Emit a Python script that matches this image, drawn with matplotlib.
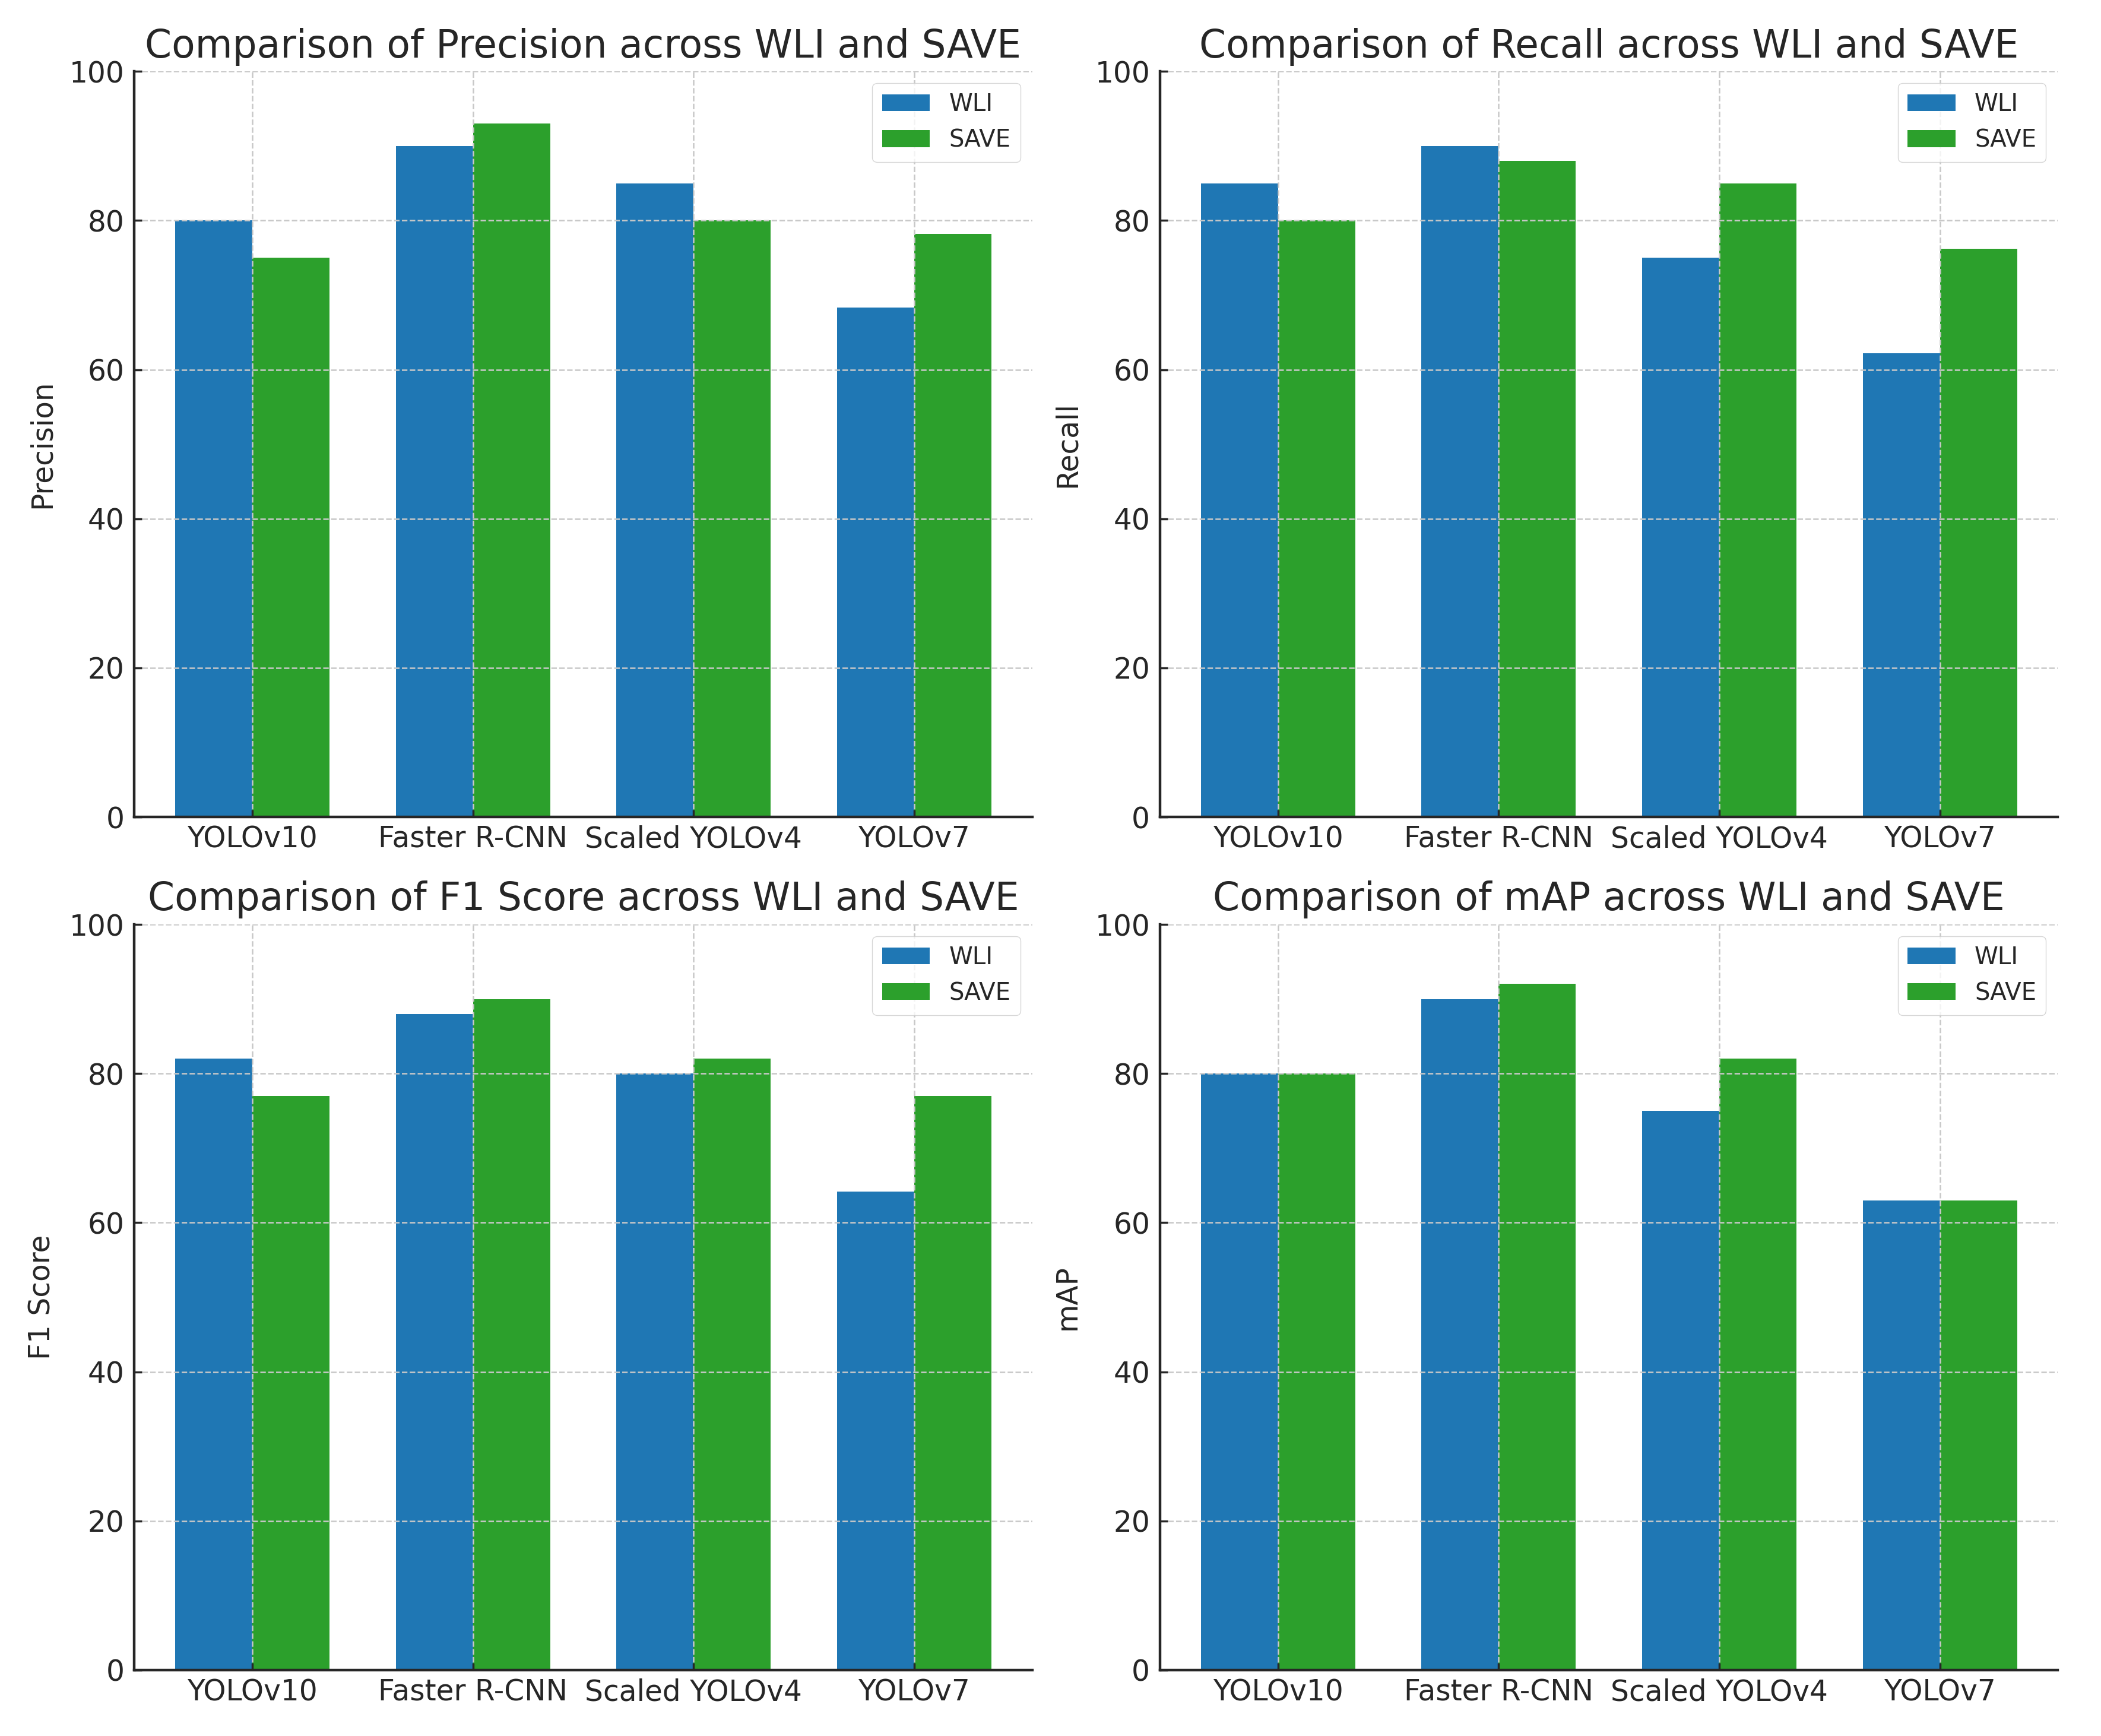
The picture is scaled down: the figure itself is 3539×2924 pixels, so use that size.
import numpy as np
import matplotlib
matplotlib.use("Agg")
import matplotlib.pyplot as plt

# modeller och serier
models = ["YOLOv10", "Faster R-CNN", "Scaled YOLOv4", "YOLOv7"]
series_names = ["WLI", "SAVE"]

precision_wli = [80, 90, 85, 68.3]
precision_save = [75, 93, 80, 78.2]
recall_wli = [85, 90, 75, 62.2]
recall_save = [80, 88, 85, 76.2]
f1_wli = [82, 88, 80, 64.2]
f1_save = [77, 90, 82, 77]
map_wli = [80, 90, 75, 63]
map_save = [80, 92, 82, 63]

metrics = ["Precision", "Recall", "F1 Score", "mAP"]
values = {
    "Precision": (precision_wli, precision_save),
    "Recall": (recall_wli, recall_save),
    "F1 Score": (f1_wli, f1_save),
    "mAP": (map_wli, map_save),
}

text_color = "#262626"
plt.rcParams["font.family"] = "DejaVu Sans"
plt.rcParams["text.color"] = text_color
plt.rcParams["axes.labelcolor"] = text_color
plt.rcParams["xtick.color"] = text_color
plt.rcParams["ytick.color"] = text_color

fig = plt.figure(figsize=(35.39, 29.24), dpi=100)

# placering av axlarna (vänster, botten, bredd, höjd)
positions = [
    [0.0639, 0.5294, 0.4274, 0.4295],
    [0.5521, 0.5294, 0.4274, 0.4295],
    [0.0639, 0.0380, 0.4274, 0.4295],
    [0.5521, 0.0380, 0.4274, 0.4295],
]

x = np.arange(len(models))
width = 0.35

for pos, metric in zip(positions, metrics):
    ax = fig.add_axes(pos)
    wli, save = values[metric]
    ax.bar(x - width / 2, wli, width, label=series_names[0], color="#1f77b4")
    ax.bar(x + width / 2, save, width, label=series_names[1], color="#2ca02c")

    ax.set_title(f"Comparison of {metric} across WLI and SAVE", fontsize=46.5, pad=17)
    ax.set_ylabel(metric, fontsize=35, labelpad=16)
    ax.set_xticks(x)
    ax.set_xticklabels(models, fontsize=35)
    ax.set_ylim(0, 100)
    ax.set_yticks([0, 20, 40, 60, 80, 100])
    ax.tick_params(axis="y", labelsize=35, pad=12)
    ax.tick_params(axis="x", pad=10)
    ax.tick_params(direction="in", length=9, width=2.5)

    ax.grid(True, linestyle="--", color="#c8c8c8", linewidth=1.8)
    for side in ["top", "right"]:
        ax.spines[side].set_visible(False)
    for side in ["left", "bottom"]:
        ax.spines[side].set_linewidth(3.2)
        ax.spines[side].set_color(text_color)

    ax.legend(loc="upper right", fontsize=29)

fig.savefig("out.png", dpi=100)
